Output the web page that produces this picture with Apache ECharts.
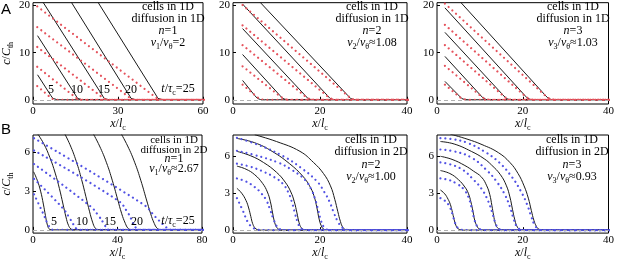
<!DOCTYPE html>
<html>
<head>
<meta charset="utf-8">
<script src="https://cdn.jsdelivr.net/npm/echarts@6/dist/echarts.min.js"></script>
<style>
  html, body { margin: 0; padding: 0; background: #fff; }
  #chart { width: 617px; height: 262px; }
</style>
</head>
<body>
<div id="chart"></div>
<script>
// values: [x/l_c, c/C_th] per curve, t/tau_c = 5,10,15,20,25
const a1Black = [
  [[1.6, 5.3], [6.3, 0.9], [7.0, 0.3], [7.7, 0.05], [8.6, 0], [61, 0]],
  [[1.6, 13.6], [15, 1.0], [15.7, 0.3], [16.4, 0.05], [17.3, 0], [61, 0]],
  [[2.8, 21.4], [24.4, 1.0], [25.1, 0.3], [25.8, 0.05], [26.7, 0], [61, 0]],
  [[12.8, 21.4], [33.9, 1.0], [34.6, 0.3], [35.3, 0.05], [36.2, 0], [61, 0]],
  [[22.2, 21.4], [43.4, 1.0], [44.1, 0.3], [44.8, 0.05], [45.7, 0], [61, 0]]
];
const a1Dots = [
  [[1.5, 2.9], [6.5, 0.3], [7.4, 0.05], [8.5, 0], [61, 0]],
  [[1.5, 7.0], [15, 0.5], [16, 0.08], [17, 0], [61, 0]],
  [[1.5, 11.2], [24.5, 0.5], [25.5, 0.08], [26.5, 0], [61, 0]],
  [[1.5, 15.4], [34, 0.5], [35, 0.08], [36, 0], [61, 0]],
  [[1.5, 19.8], [43.3, 0.5], [44.3, 0.08], [45.3, 0], [61, 0]]
];
const a2Black = [
  [[2.2, 4.1], [5.0, 0.9], [5.6, 0.3], [6.3, 0.05], [7.2, 0], [41, 0]],
  [[2.2, 9.6], [10.8, 0.9], [11.4, 0.3], [12.1, 0.05], [13, 0], [41, 0]],
  [[2.2, 15.1], [16.6, 0.9], [17.2, 0.3], [17.9, 0.05], [18.8, 0], [41, 0]],
  [[2.2, 20.3], [21.7, 0.9], [22.3, 0.3], [23, 0.05], [23.9, 0], [41, 0]],
  [[5.5, 21.4], [26.4, 0.9], [27, 0.3], [27.7, 0.05], [28.6, 0], [41, 0]]
];
const a2Dots = [
  [[2.2, 3.2], [5.5, 0.6], [6.3, 0.1], [7.2, 0], [41, 0]],
  [[2.2, 7.1], [11, 0.6], [11.9, 0.1], [12.8, 0], [41, 0]],
  [[2.2, 11.6], [16.8, 0.6], [17.7, 0.1], [18.6, 0], [41, 0]],
  [[2.2, 15.8], [21.9, 0.6], [22.8, 0.1], [23.7, 0], [41, 0]],
  [[2.2, 20.1], [26.7, 0.6], [27.6, 0.1], [28.5, 0], [41, 0]]
];
const a3Black = [
  [[1.85, 3.9], [5.2, 0.8], [5.8, 0.25], [6.5, 0.04], [7.4, 0], [41, 0]],
  [[1.85, 9.2], [10.3, 0.8], [10.9, 0.25], [11.6, 0.04], [12.5, 0], [41, 0]],
  [[1.85, 14.3], [15.6, 0.8], [16.2, 0.25], [16.9, 0.04], [17.8, 0], [41, 0]],
  [[1.85, 19.5], [20.6, 0.8], [21.2, 0.25], [21.9, 0.04], [22.8, 0], [41, 0]],
  [[4.8, 21.4], [25.4, 0.8], [26, 0.25], [26.7, 0.04], [27.6, 0], [41, 0]]
];
const a3Dots = [
  [[1.85, 3.2], [5.4, 0.5], [6.3, 0.08], [7.2, 0], [41, 0]],
  [[1.85, 7.2], [10.6, 0.5], [11.5, 0.08], [12.4, 0], [41, 0]],
  [[1.85, 11.6], [15.9, 0.5], [16.8, 0.08], [17.7, 0], [41, 0]],
  [[1.85, 15.9], [20.9, 0.5], [21.8, 0.08], [22.7, 0], [41, 0]],
  [[1.85, 20.4], [25.7, 0.5], [26.6, 0.08], [27.5, 0], [41, 0]]
];
const b1Black = [
  [[0.3, 4.5], [2, 3.85], [3.6, 3.0], [4.9, 2.0], [5.9, 1.1], [6.7, 0.45], [7.5, 0.1], [8.5, 0.01], [9.5, 0], [82, 0]],
  [[1.5, 7.6], [5, 6.7], [8, 5.6], [10.5, 4.4], [12.5, 3.2], [14.2, 2.0], [15.6, 1.0], [16.8, 0.35], [18, 0.07], [19.5, 0], [82, 0]],
  [[14.5, 7.6], [17.5, 6.6], [20.5, 5.3], [23, 3.9], [25, 2.6], [26.8, 1.4], [28.2, 0.6], [29.4, 0.15], [30.6, 0.02], [32, 0], [82, 0]],
  [[28, 7.6], [31.5, 6.5], [34.8, 5.2], [37.6, 3.8], [40, 2.4], [42, 1.25], [43.7, 0.5], [45, 0.12], [46.3, 0.02], [47.5, 0], [82, 0]],
  [[41.2, 7.6], [44.8, 6.5], [48.2, 5.2], [51.1, 3.8], [53.6, 2.4], [55.7, 1.25], [57.4, 0.5], [58.8, 0.12], [60.2, 0.02], [61.5, 0], [82, 0]]
];
const b1Dots = [
  [[0.5, 2.75], [5, 1.2], [7, 0.45], [8.5, 0.1], [9.6, 0], [82, 0]],
  [[0.5, 3.95], [14, 1.7], [17, 1.0], [19, 0.45], [20.5, 0.1], [21.8, 0], [82, 0]],
  [[0.5, 5.1], [27, 1.85], [31, 1.1], [33.5, 0.5], [35, 0.12], [36.3, 0], [82, 0]],
  [[0.5, 6.15], [40, 2.3], [45, 1.3], [47.5, 0.5], [49.2, 0.08], [50.5, 0], [82, 0]],
  [[0.5, 7.1], [52, 2.0], [58, 1.0], [62, 0.35], [64.5, 0.05], [66, 0], [82, 0]]
];
const b2Black = [
  [[0.9, 3.4], [2, 3.0], [3, 2.4], [3.6, 1.8], [4.1, 1.1], [4.5, 0.55], [5, 0.2], [5.6, 0.04], [6.5, 0], [41, 0]],
  [[0.9, 5.2], [3, 4.95], [5, 4.5], [6.8, 3.8], [7.9, 3.1], [8.6, 2.3], [9.1, 1.4], [9.6, 0.6], [10.1, 0.2], [10.8, 0.04], [12, 0], [41, 0]],
  [[0.9, 6.4], [4, 6.05], [7, 5.5], [10, 4.7], [12, 3.9], [13.3, 3.1], [14.1, 2.3], [14.7, 1.4], [15.2, 0.6], [15.7, 0.2], [16.4, 0.04], [17.5, 0], [41, 0]],
  [[0.9, 7.45], [5, 7.1], [9, 6.4], [13, 5.4], [16, 4.4], [17.6, 3.6], [18.6, 2.8], [19.3, 1.8], [19.8, 0.9], [20.3, 0.35], [20.9, 0.07], [22, 0], [41, 0]],
  [[5, 7.75], [10, 7.2], [15.4, 6.4], [18.5, 5.5], [20.8, 4.6], [22.4, 3.6], [23.4, 2.5], [24.1, 1.5], [24.7, 0.7], [25.3, 0.2], [26, 0.04], [27.2, 0], [41, 0]]
];
const b2Dots = [
  [[0.9, 2.6], [2.3, 1.55], [3.45, 0.63], [4.6, 0.2], [5.8, 0.03], [7, 0], [41, 0]],
  [[0.9, 4.2], [3, 3.95], [5, 3.5], [6.6, 2.95], [7.7, 2.4], [8.6, 1.6], [9.3, 0.9], [10, 0.35], [10.8, 0.08], [12, 0], [41, 0]],
  [[0.9, 5.4], [4, 5.15], [7.3, 4.7], [9.5, 4.3], [11.5, 3.75], [12.8, 3.0], [13.6, 2.2], [14.3, 1.3], [14.9, 0.6], [15.5, 0.2], [16.3, 0.04], [17.5, 0], [41, 0]],
  [[0.9, 6.45], [5, 6.1], [10.3, 5.5], [13.5, 4.9], [16.5, 4.1], [18, 3.3], [18.9, 2.5], [19.6, 1.6], [20.2, 0.8], [20.8, 0.3], [21.5, 0.06], [22.8, 0], [41, 0]],
  [[0.9, 7.5], [6, 6.9], [11.6, 6.0], [15.5, 5.1], [19.2, 4.0], [21, 3.1], [22.2, 2.3], [23.2, 1.4], [24.1, 0.7], [25, 0.25], [25.9, 0.05], [27.2, 0], [41, 0]]
];
const b3Black = [
  [[0.8, 3.26], [1.8, 2.95], [2.6, 2.5], [3.1, 2.1], [3.5, 1.6], [3.9, 1.0], [4.3, 0.5], [4.7, 0.2], [5.3, 0.04], [6.5, 0], [41, 0]],
  [[0.8, 4.84], [3, 4.6], [5, 4.1], [6.5, 3.5], [7.3, 3.0], [7.9, 2.3], [8.4, 1.5], [8.8, 0.8], [9.3, 0.35], [9.9, 0.08], [11, 0], [41, 0]],
  [[0.8, 6.0], [3.5, 5.75], [6.5, 5.25], [8.5, 4.8], [10.4, 4.3], [11.6, 3.6], [12.3, 2.9], [12.8, 2.0], [13.2, 1.2], [13.6, 0.55], [14.1, 0.2], [14.8, 0.04], [16, 0], [41, 0]],
  [[0.8, 7.2], [4, 7.0], [8, 6.4], [11, 5.8], [12.7, 5.3], [14.8, 4.5], [16.2, 3.6], [17, 2.7], [17.6, 1.7], [18.1, 0.9], [18.6, 0.35], [19.2, 0.08], [20.3, 0], [41, 0]],
  [[3.1, 7.8], [7, 7.4], [10.5, 6.95], [14.3, 6.3], [17, 5.5], [18.9, 4.6], [20.3, 3.6], [21.3, 2.6], [22, 1.6], [22.6, 0.8], [23.2, 0.3], [23.8, 0.07], [25, 0], [41, 0]]
];
const b3Dots = [
  [[0.8, 2.6], [1.8, 2.4], [2.8, 2.0], [3.6, 1.3], [4.2, 0.6], [4.8, 0.2], [5.5, 0.05], [6.5, 0], [41, 0]],
  [[0.8, 4.2], [2.5, 4.1], [4.5, 3.8], [6.3, 3.3], [7.3, 2.7], [8.1, 1.8], [8.7, 0.9], [9.3, 0.35], [10, 0.08], [11, 0], [41, 0]],
  [[0.8, 5.5], [3, 5.35], [6, 4.9], [8.5, 4.1], [10.5, 3.3], [12, 2.3], [12.9, 1.4], [13.6, 0.6], [14.3, 0.15], [15.2, 0.02], [16, 0], [41, 0]],
  [[0.8, 6.55], [4, 6.4], [8, 5.9], [11.5, 4.9], [14, 3.9], [15.8, 2.9], [17, 1.9], [17.8, 1.0], [18.5, 0.35], [19.3, 0.08], [20.5, 0], [41, 0]],
  [[0.8, 7.47], [3.5, 7.4], [7, 7.1], [11, 6.4], [14.5, 5.5], [17.5, 4.3], [19.5, 3.2], [21, 2.1], [22, 1.1], [22.8, 0.4], [23.6, 0.1], [24.5, 0], [41, 0]]
];

const xTicksA1 = [0, 30, 60];
const xTicksB1 = [0, 40, 80];
const xTicks40 = [0, 20, 40];
const yTicksA = [0, 10, 20];
const yTicksB = [0, 3, 6];
const timeLabels = ['5', '10', '15', '20'];

const SERIF = "'Liberation Serif', 'DejaVu Serif', serif";
const RED = '#e5525c';
const BLUE = '#5252e4';
const rich = {
  i: { fontStyle: 'italic', fontFamily: SERIF, fontSize: 12, color: '#000' },
  r: { fontFamily: SERIF, fontSize: 12, color: '#000' },
  s: { fontFamily: SERIF, fontSize: 8, color: '#000', verticalAlign: 'bottom', lineHeight: 16 }
};

const panels = [
  { grid: { left: 31, top: 2, width: 172, height: 102 }, x: [0, 60], y: [-0.9, 20.6], xt: xTicksA1, yt: yTicksA, black: a1Black, dots: a1Dots, color: RED, smooth: false },
  { grid: { left: 233, top: 2, width: 174, height: 102 }, x: [0, 40], y: [-0.9, 20.6], xt: xTicks40, yt: yTicksA, black: a2Black, dots: a2Dots, color: RED, smooth: false },
  { grid: { left: 437, top: 2, width: 172, height: 102 }, x: [0, 40], y: [-0.9, 20.6], xt: xTicks40, yt: yTicksA, black: a3Black, dots: a3Dots, color: RED, smooth: false },
  { grid: { left: 31, top: 135, width: 171, height: 101 }, x: [0, 80], y: [-0.25, 7.35], xt: xTicksB1, yt: yTicksB, black: b1Black, dots: b1Dots, color: BLUE, smooth: 0.45 },
  { grid: { left: 233, top: 135, width: 174, height: 101 }, x: [0, 40], y: [-0.24, 7.73], xt: xTicks40, yt: yTicksB, black: b2Black, dots: b2Dots, color: BLUE, smooth: 0.45 },
  { grid: { left: 437, top: 135, width: 172, height: 101 }, x: [0, 40], y: [-0.24, 7.73], xt: xTicks40, yt: yTicksB, black: b3Black, dots: b3Dots, color: BLUE, smooth: 0.45 }
];

const grids = [], xAxes = [], yAxes = [], series = [];
panels.forEach((p, i) => {
  grids.push(Object.assign({ show: true, borderColor: '#000', borderWidth: 1, backgroundColor: 'transparent' }, p.grid));
  xAxes.push({
    gridIndex: i, type: 'value', min: p.x[0], max: p.x[1],
    axisLine: { show: false }, splitLine: { show: false },
    axisTick: { inside: true, length: 3, customValues: p.xt, lineStyle: { color: '#000' } },
    axisLabel: { customValues: p.xt, fontFamily: SERIF, fontSize: 11, color: '#000', margin: 2 },
    name: '{i|x}{r|/}{i|l}{s|c}', nameLocation: 'middle', nameGap: 11,
    nameTextStyle: { rich: rich }
  });
  yAxes.push({
    gridIndex: i, type: 'value', min: p.y[0], max: p.y[1],
    axisLine: { show: false }, splitLine: { show: false },
    axisTick: { inside: true, length: 3, customValues: p.yt, lineStyle: { color: '#000' } },
    axisLabel: { customValues: p.yt, fontFamily: SERIF, fontSize: 11, color: '#000', margin: 3 },
    name: i % 3 === 0 ? '{i|c}{r|/}{i|C}{s|th}' : '', nameLocation: 'middle', nameGap: 18, nameRotate: 90,
    nameTextStyle: { rich: rich }
  });
  // threshold line at 0
  series.push({
    type: 'line', xAxisIndex: i, yAxisIndex: i, data: [], silent: true,
    markLine: { silent: true, symbol: 'none', label: { show: false },
      lineStyle: { color: '#b0b0b0', type: [4, 3], width: 1 }, data: [{ yAxis: 0 }] }
  });
  p.black.forEach(d => series.push({
    type: 'line', xAxisIndex: i, yAxisIndex: i, data: d, showSymbol: false,
    smooth: p.smooth, clip: true,
    lineStyle: { color: '#1a1a1a', width: 1 }
  }));
  p.dots.forEach(d => series.push({
    type: 'line', xAxisIndex: i, yAxisIndex: i, data: d, showSymbol: false,
    smooth: p.smooth, clip: true,
    lineStyle: { color: p.color, width: 2.2, type: [0.01, 5], cap: 'round' }
  }));
});

function txt(x, y, text, size) {
  return {
    type: 'text', x: x, y: y, z: 100,
    style: { text: text, align: 'center', verticalAlign: 'middle', fontFamily: SERIF, fontSize: size, fill: '#000', rich: rich }
  };
}
function infoBlock(cx, ys, lines, size) {
  return lines.map((l, k) => txt(cx, ys[k], l, size));
}

const graphics = [
  { type: 'text', x: 1, y: 2, style: { text: 'A', fontFamily: 'Arial, Liberation Sans, sans-serif', fontSize: 15, fill: '#000' } },
  { type: 'text', x: 1, y: 122, style: { text: 'B', fontFamily: 'Arial, Liberation Sans, sans-serif', fontSize: 15, fill: '#000' } }
].concat(
  infoBlock(168, [7, 19, 31, 43], ['cells in 1D', 'diffusion in 1D', '{i|n}{r|=1}', '{i|v}{s|1}{r|/}{i|v}{s|θ}{r|=2}'], 12),
  infoBlock(372, [7, 19, 31, 43], ['cells in 1D', 'diffusion in 1D', '{i|n}{r|=2}', '{i|v}{s|2}{r|/}{i|v}{s|θ}{r|≈1.08}'], 12),
  infoBlock(573, [7, 19, 31, 43], ['cells in 1D', 'diffusion in 1D', '{i|n}{r|=3}', '{i|v}{s|3}{r|/}{i|v}{s|θ}{r|≈1.03}'], 12),
  infoBlock(174, [140, 150, 159, 169], ['cells in 1D', 'diffusion in 2D', '{i|n}{r|=1}', '{i|v}{s|1}{r|/}{i|v}{s|θ}{r|≈2.67}'], 11),
  infoBlock(371, [140, 152, 165, 177], ['cells in 1D', 'diffusion in 2D', '{i|n}{r|=2}', '{i|v}{s|2}{r|/}{i|v}{s|θ}{r|≈1.00}'], 12),
  infoBlock(572, [140, 152, 165, 177], ['cells in 1D', 'diffusion in 2D', '{i|n}{r|=3}', '{i|v}{s|3}{r|/}{i|v}{s|θ}{r|≈0.93}'], 12),
  timeLabels.map((t, k) => txt([51, 77, 104, 131][k], 90, t, 12)),
  [txt(178, 89, '{i|t}{r|/}{i|τ}{s|c}{r|=25}', 12)],
  timeLabels.map((t, k) => txt([54, 82, 110, 137][k], 222, t, 12)),
  [txt(178, 221, '{i|t}{r|/}{i|τ}{s|c}{r|=25}', 12)]
);

const chart = echarts.init(document.getElementById('chart'));
chart.setOption({
  animation: false,
  backgroundColor: '#fff',
  grid: grids,
  xAxis: xAxes,
  yAxis: yAxes,
  series: series,
  graphic: graphics
});
</script>
</body>
</html>
